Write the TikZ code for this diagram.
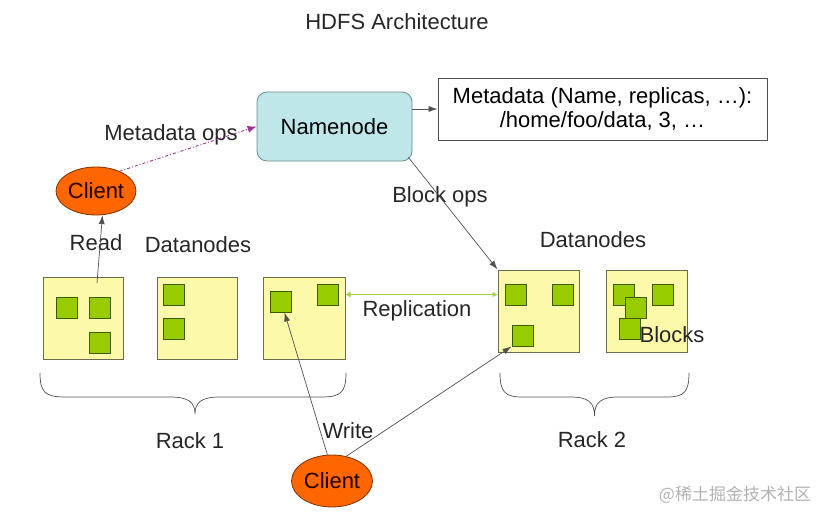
\documentclass[tikz,border=0pt]{standalone}
\usepackage{fontspec}
\setmainfont{Liberation Sans}
\newfontfamily\cjk{Noto Sans CJK SC}
\usetikzlibrary{arrows.meta,shapes.geometric,calc}
\definecolor{linegray}{HTML}{505050}
\definecolor{nnfill}{HTML}{BFE6E8}
\definecolor{nndraw}{HTML}{6E8E8E}
\definecolor{clfill}{HTML}{FF6600}
\definecolor{cldraw}{HTML}{7A3300}
\definecolor{dnfill}{HTML}{FCF9A8}
\definecolor{dndraw}{HTML}{6B6B50}
\definecolor{blkfill}{HTML}{99CC00}
\definecolor{blkdraw}{HTML}{3D5A00}
\definecolor{replgreen}{HTML}{A0D040}
\definecolor{opspurple}{HTML}{993399}
\begin{document}
\begin{tikzpicture}[x=1pt,y=-1pt,
  font=\fontsize{22}{24}\selectfont,
  namebox/.style={draw=nndraw,fill=nnfill,rounded corners=10pt,minimum width=155pt,minimum height=69pt,line width=0.8pt},
  metabox/.style={draw=linegray,fill=white,minimum width=329pt,minimum height=62pt,align=center,line width=0.8pt,inner sep=2pt},
  clientnode/.style={ellipse,draw=cldraw,fill=clfill,inner sep=0pt,line width=0.8pt,text=black!85!red},
  dnbox/.style={draw=dndraw,fill=dnfill,minimum width=80pt,minimum height=82pt,line width=1pt,inner sep=0pt},
  blk/.style={draw=blkdraw,fill=blkfill,minimum width=21pt,minimum height=21pt,line width=1pt,inner sep=0pt},
  lbl/.style={text=black!85,inner sep=0pt},
  arr/.style={draw=linegray,line width=0.7pt,-{Latex[length=9pt,width=6pt]}},
  opsarr/.style={draw=opspurple,line width=0.9pt,dash pattern=on 3pt off 2pt on 1pt off 2pt,-{Latex[length=9pt,width=7pt]}},
  replarr/.style={draw=replgreen,line width=1.2pt,{Latex[length=5pt,width=6pt]}-{Latex[length=5pt,width=6pt]}},
  bracestyle/.style={draw=linegray,line width=0.7pt},
]
\useasboundingbox (0,0) rectangle (823,522);

\node[lbl] (title) at (397,22) {HDFS Architecture};

\node[namebox] (nn) at (334.5,126.5) {Namenode};
\node[metabox] (meta) at (602.5,109) {Metadata (Name, replicas, \ldots):\\/home/foo/data, 3, \ldots};

\node[clientnode,minimum width=80pt,minimum height=48pt] (c1) at (96,191) {Client};
\node[clientnode,minimum width=81pt,minimum height=52pt] (c2) at (332,481) {Client};

% datanodes
\node[dnbox] (dn1) at (83,318) {};
\node[dnbox] (dn2) at (197,318) {};
\node[dnbox,minimum width=82pt] (dn3) at (304,318) {};
\node[dnbox,minimum width=81pt] (dn4) at (538.5,311) {};
\node[dnbox,minimum width=81pt] (dn5) at (646.5,311) {};

% blocks
\node[blk] (b11) at (66.5,307.5) {};
\node[blk] (b12) at (99.5,307.5) {};
\node[blk] (b13) at (99.5,342.5) {};
\node[blk] (b21) at (173.5,294.5) {};
\node[blk] (b22) at (173.5,328.5) {};
\node[blk] (b31) at (280.5,301.5) {};
\node[blk] (b32) at (327.5,294.5) {};
\node[blk] (b41) at (515.5,294.5) {};
\node[blk] (b42) at (562.5,294.5) {};
\node[blk] (b43) at (522.5,335.5) {};
\node[blk] (b51) at (623.5,294.5) {};
\node[blk] (b52) at (663,294.5) {};
\node[blk] (b53) at (636,308) {};
\node[blk] (b54) at (629.5,328.5) {};

% labels
\node[lbl] (lmeta) at (171,135) {Metadata ops};
\node[lbl] (lblock) at (440,197) {Block ops};
\node[lbl] (lread) at (96,243) {Read};
\node[lbl] (ldn1) at (198,245) {Datanodes};
\node[lbl] (ldn2) at (593,240) {Datanodes};
\node[lbl] (lrepl) at (417,311) {Replication};
\node[lbl] (lblocks) at (672,335) {Blocks};
\node[lbl] (lwrite) at (348,431) {Write};
\node[lbl] (lrack1) at (190,441) {Rack 1};
\node[lbl] (lrack2) at (592,440) {Rack 2};

\node[text=black!30,font=\cjk\fontsize{17}{19}\selectfont,inner sep=0pt] (wm) at (735,495) {@稀土掘金技术社区};

% connectors
\draw[arr] (meta.west -| nn.east) -- (meta.west);
\draw[opsarr] (c1.40) -- (nn.west);
\draw[arr] ($(nn.south east)+(-4,-4)$) -- (dn4.north west);
\coordinate (rstart) at (97,283);
\draw[arr] (rstart) -- (c1.-75);
\draw[arr] (c2.100) -- (b31.-70);
\draw[arr] (c2.60) -- (b43.south west);
\draw[replarr] (b32.east -| dn3.east) -- (b32.east -| dn4.west);

% braces
\draw[bracestyle] (40,373) .. controls (40,392) and (45,397) .. (65,397) -- (170,397)
  .. controls (188,397) and (195,402) .. (195,414)
  .. controls (195,402) and (202,397) .. (220,397) -- (322,397)
  .. controls (341,397) and (346,392) .. (346,373);
\draw[bracestyle] (500,373) .. controls (500,392) and (505,397) .. (522,397) -- (570,397)
  .. controls (588,397) and (594.5,402) .. (594.5,416)
  .. controls (594.5,402) and (601,397) .. (619,397) -- (667,397)
  .. controls (684,397) and (689,392) .. (689,373);
\end{tikzpicture}
\end{document}
